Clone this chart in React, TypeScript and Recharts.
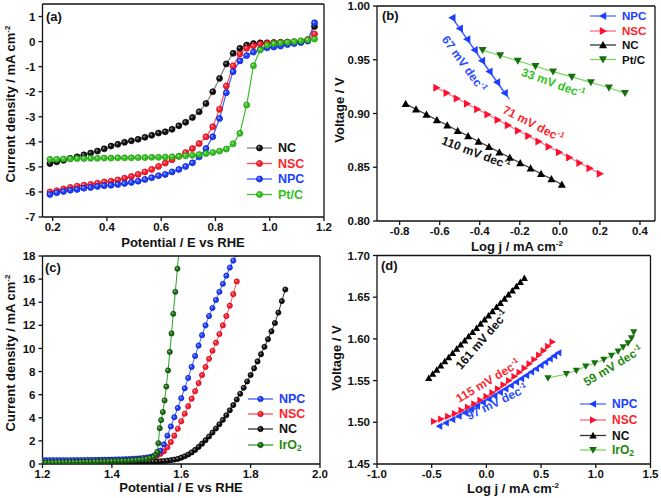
import { LineChart, Line, XAxis, YAxis } from 'recharts';

const W = 661;
const H = 498;
const FONT = '"Liberation Sans", Arial, Helvetica, sans-serif';

// ---------- (a) ORR polarisation curves ----------
const aPotential = [0.19, 0.215, 0.24, 0.265, 0.29, 0.315, 0.34, 0.365, 0.39, 0.415, 0.44, 0.465, 0.49, 0.515, 0.54, 0.565, 0.59, 0.615, 0.64, 0.665, 0.69, 0.715, 0.74, 0.765, 0.79, 0.815, 0.84, 0.865, 0.89, 0.915, 0.94, 0.965, 0.99, 1.015, 1.04, 1.065, 1.09, 1.115, 1.14, 1.165];
const aNC = [-4.87, -4.8, -4.74, -4.66, -4.6, -4.52, -4.45, -4.37, -4.28, -4.17, -4.1, -4.02, -3.96, -3.9, -3.82, -3.74, -3.65, -3.6, -3.5, -3.36, -3.22, -3.03, -2.8, -2.47, -2.0, -1.47, -0.89, -0.47, -0.27, -0.14, -0.08, -0.05, -0.05, -0.04, -0.03, -0.02, -0.01, 0, 0.05, 0.6];
const aNSC = [-6.0, -5.95, -5.88, -5.82, -5.77, -5.73, -5.7, -5.65, -5.6, -5.57, -5.52, -5.45, -5.38, -5.3, -5.2, -5.1, -4.98, -4.85, -4.72, -4.58, -4.43, -4.27, -4.07, -3.8, -3.4, -2.7, -1.77, -0.97, -0.5, -0.27, -0.17, -0.1, -0.07, -0.05, -0.04, -0.03, -0.02, 0, 0.08, 0.3];
const aNPC = [-6.1, -6.03, -5.98, -5.93, -5.9, -5.85, -5.82, -5.78, -5.75, -5.73, -5.7, -5.66, -5.62, -5.57, -5.5, -5.43, -5.35, -5.3, -5.2, -5.1, -4.98, -4.84, -4.6, -4.27, -3.8, -3.07, -2.04, -1.2, -0.77, -0.56, -0.42, -0.32, -0.25, -0.22, -0.18, -0.12, -0.08, -0.04, 0.02, 0.75];
const aPtC = [-4.7, -4.7, -4.69, -4.68, -4.67, -4.67, -4.66, -4.66, -4.65, -4.65, -4.64, -4.64, -4.64, -4.63, -4.63, -4.62, -4.62, -4.61, -4.6, -4.58, -4.56, -4.54, -4.51, -4.47, -4.43, -4.37, -4.29, -4.08, -3.66, -2.53, -0.96, -0.33, -0.15, -0.08, -0.05, -0.03, 0, 0.03, 0.06, 0.1];
const aXTicks = [0.2, 0.4, 0.6, 0.8, 1.0, 1.2];
const aYTicks = [-7, -6, -5, -4, -3, -2, -1, 0, 1];

// ---------- (b) ORR Tafel ----------
const bNpcLog = [-0.537, -0.5, -0.463, -0.426, -0.389, -0.352, -0.314, -0.276];
const bNpcV = [0.989, 0.979, 0.969, 0.959, 0.949, 0.939, 0.929, 0.919];
const bNpcFitLog = [-0.537, -0.251];
const bNpcFitV = [0.989, 0.913];
const bNscLog = [-0.616, -0.565, -0.514, -0.463, -0.412, -0.361, -0.31, -0.259, -0.208, -0.157, -0.106, -0.055, -0.004, 0.047, 0.098, 0.149, 0.2];
const bNscV = [0.924, 0.919, 0.914, 0.909, 0.904, 0.899, 0.894, 0.889, 0.884, 0.879, 0.874, 0.869, 0.864, 0.859, 0.854, 0.849, 0.844];
const bNcLog = [-0.77, -0.718, -0.666, -0.614, -0.562, -0.51, -0.458, -0.406, -0.354, -0.302, -0.25, -0.198, -0.146, -0.094, -0.042, 0.01];
const bNcV = [0.909, 0.904, 0.899, 0.894, 0.889, 0.884, 0.879, 0.874, 0.869, 0.864, 0.859, 0.854, 0.849, 0.844, 0.839, 0.834];
const bPtLog = [-0.386, -0.298, -0.21, -0.122, -0.034, 0.06, 0.155, 0.245, 0.325];
const bPtV = [0.959, 0.954, 0.949, 0.944, 0.939, 0.934, 0.929, 0.924, 0.919];
const bXTicks = [-0.8, -0.6, -0.4, -0.2, 0, 0.2, 0.4];
const bYTicks = [0.8, 0.85, 0.9, 0.95, 1.0];

// ---------- (c) OER polarisation curves ----------
const cPotential = [1.2, 1.21, 1.22, 1.23, 1.24, 1.25, 1.26, 1.27, 1.28, 1.29, 1.3, 1.31, 1.32, 1.33, 1.34, 1.35, 1.36, 1.37, 1.38, 1.39, 1.4, 1.41, 1.42, 1.43, 1.44, 1.45, 1.46, 1.47, 1.48, 1.49, 1.5, 1.51, 1.52, 1.53, 1.54, 1.55, 1.56, 1.57, 1.58, 1.59, 1.6, 1.61, 1.62, 1.63, 1.64, 1.65, 1.66, 1.67, 1.68, 1.69, 1.7, 1.71, 1.72, 1.73, 1.74, 1.75, 1.76, 1.77, 1.78, 1.79, 1.8, 1.81, 1.82, 1.83, 1.84, 1.85, 1.86, 1.87, 1.88, 1.89, 1.9];
const cNC = [0.12, 0.12, 0.12, 0.12, 0.12, 0.12, 0.12, 0.13, 0.13, 0.13, 0.13, 0.13, 0.13, 0.14, 0.14, 0.14, 0.14, 0.14, 0.15, 0.15, 0.15, 0.15, 0.16, 0.16, 0.16, 0.17, 0.17, 0.17, 0.18, 0.18, 0.19, 0.2, 0.21, 0.22, 0.24, 0.26, 0.29, 0.33, 0.38, 0.44, 0.55, 0.67, 0.82, 1.0, 1.22, 1.48, 1.76, 2.06, 2.38, 2.72, 3.07, 3.44, 3.82, 4.22, 4.65, 5.1, 5.58, 6.08, 6.6, 7.14, 7.7, 8.28, 8.88, 9.5, 10.14, 10.8, 11.48, 12.2, 13.1, 14.1, 15.1];
const cNSC = [0.26, 0.26, 0.26, 0.26, 0.26, 0.27, 0.27, 0.27, 0.27, 0.28, 0.28, 0.28, 0.29, 0.29, 0.29, 0.3, 0.3, 0.31, 0.31, 0.32, 0.33, 0.34, 0.35, 0.36, 0.37, 0.38, 0.4, 0.42, 0.44, 0.47, 0.5, 0.55, 0.62, 0.72, 0.88, 1.1, 1.45, 1.9, 2.45, 3.05, 3.7, 4.35, 5.0, 5.65, 6.3, 7.0, 7.7, 8.4, 9.1, 9.8, 10.5, 11.25, 12.0, 12.8, 13.7, 14.7, 15.8];
const cNPC = [0.33, 0.33, 0.33, 0.33, 0.33, 0.33, 0.33, 0.33, 0.33, 0.34, 0.34, 0.34, 0.34, 0.35, 0.35, 0.35, 0.36, 0.36, 0.37, 0.37, 0.38, 0.39, 0.4, 0.41, 0.42, 0.43, 0.45, 0.47, 0.49, 0.52, 0.56, 0.61, 0.7, 0.85, 1.15, 1.7, 2.45, 3.25, 4.05, 4.85, 5.7, 6.55, 7.45, 8.4, 9.35, 10.25, 11.15, 12.0, 12.8, 13.5, 14.2, 14.9, 15.6, 16.3, 17.0, 17.6, 18.2];
const cIrPotential = [1.2, 1.21, 1.22, 1.23, 1.24, 1.25, 1.26, 1.27, 1.28, 1.29, 1.3, 1.31, 1.32, 1.33, 1.34, 1.35, 1.36, 1.37, 1.38, 1.39, 1.4, 1.41, 1.42, 1.43, 1.44, 1.45, 1.46, 1.47, 1.48, 1.49, 1.5, 1.51, 1.52, 1.527, 1.531, 1.534, 1.538, 1.542, 1.547, 1.552, 1.557, 1.562, 1.567, 1.572, 1.577, 1.583, 1.589, 1.595];
const cIrO2 = [0.15, 0.15, 0.15, 0.16, 0.16, 0.16, 0.17, 0.17, 0.18, 0.18, 0.19, 0.19, 0.2, 0.2, 0.21, 0.22, 0.22, 0.23, 0.24, 0.25, 0.26, 0.27, 0.28, 0.29, 0.3, 0.32, 0.34, 0.36, 0.38, 0.41, 0.45, 0.52, 0.62, 0.8, 1.05, 1.8, 3.1, 3.8, 4.5, 5.5, 6.7, 8.1, 9.7, 11.3, 13.0, 14.9, 16.9, 19.0];
const cXTicks = [1.2, 1.4, 1.6, 1.8, 2.0];
const cYTicks = [0, 2, 4, 6, 8, 10, 12, 14, 16, 18];

// ---------- (d) OER Tafel ----------
const dNpcLog = [-0.43, -0.37, -0.311, -0.253, -0.196, -0.14, -0.085, -0.031, 0.022, 0.074, 0.125, 0.175, 0.224, 0.272, 0.319, 0.365, 0.41, 0.454, 0.497, 0.539, 0.58, 0.62, 0.659];
const dNpcV = [1.4953, 1.4993, 1.5033, 1.5073, 1.5114, 1.5154, 1.5195, 1.5236, 1.5277, 1.5318, 1.5359, 1.54, 1.5441, 1.5482, 1.5523, 1.5562, 1.5603, 1.5642, 1.5682, 1.572, 1.5759, 1.5797, 1.5834];
const dNscLog = [-0.48, -0.415, -0.351, -0.289, -0.229, -0.17, -0.112, -0.056, -0.001, 0.053, 0.105, 0.156, 0.206, 0.255, 0.302, 0.348, 0.393, 0.437, 0.48, 0.522, 0.563, 0.603];
const dNscV = [1.501, 1.5039, 1.5071, 1.5105, 1.5142, 1.5181, 1.5222, 1.5265, 1.531, 1.5355, 1.5402, 1.5449, 1.5499, 1.5549, 1.5599, 1.5649, 1.5701, 1.5753, 1.5806, 1.5859, 1.5911, 1.5964];
const dNcLog = [-0.527, -0.491, -0.454, -0.418, -0.381, -0.345, -0.309, -0.272, -0.236, -0.199, -0.163, -0.127, -0.09, -0.054, -0.017, 0.019, 0.055, 0.092, 0.128, 0.165, 0.201, 0.237, 0.274, 0.31, 0.347];
const dNcV = [1.553, 1.558, 1.563, 1.568, 1.573, 1.578, 1.583, 1.588, 1.593, 1.598, 1.603, 1.608, 1.613, 1.618, 1.623, 1.628, 1.633, 1.638, 1.643, 1.648, 1.653, 1.658, 1.663, 1.668, 1.673];
const dIrLog = [0.563, 0.731, 0.822, 0.908, 0.99, 1.073, 1.143, 1.204, 1.25, 1.295, 1.326, 1.347];
const dIrV = [1.553, 1.558, 1.562, 1.567, 1.571, 1.575, 1.58, 1.585, 1.59, 1.595, 1.601, 1.608];
const dXTicks = [-1.0, -0.5, 0, 0.5, 1.0, 1.5];
const dYTicks = [1.45, 1.5, 1.55, 1.6, 1.65, 1.7];

// plot-area boxes (page pixels)
const PA = { l: 42.5, r: 324, t: 4, b: 217 };
const PB = { l: 377, r: 655, t: 6, b: 221 };
const PC = { l: 42.5, r: 320, t: 256, b: 464 };
const PD = { l: 377, r: 650.5, t: 255.5, b: 464 };
const YW = 30; // y axis band
const XH = 24; // x axis band

const zip = (xs: number[], ys: number[]) => xs.map((x, i) => ({ x, y: ys[i] }));

const aRows = aPotential.map((x, i) => ({ x, nc: aNC[i], nsc: aNSC[i], npc: aNPC[i], pt: aPtC[i] }));
const cRows = cPotential.map((x, i) => ({ x, nc: cNC[i], nsc: cNSC[i] ?? null, npc: cNPC[i] ?? null }));

// ---------- markers ----------
const ballAt = (cx: number, cy: number, r: number, fill: string, edge: string, key: string) => (
  <g key={key}>
    <circle cx={cx} cy={cy} r={r} fill={fill} stroke={edge} strokeWidth={0.7} />
    <circle cx={cx - r * 0.25} cy={cy - r * 0.25} r={r * 0.38} fill="#fff" fillOpacity={0.45} />
  </g>
);
const ball = (fill: string, edge: string, r: number) => (p: any) =>
  p.cx == null || p.cy == null ? <g key={`n${p.index}`} /> : ballAt(p.cx, p.cy, r, fill, edge, `b${p.index}`);

type Dir = 'up' | 'down' | 'left' | 'right';
const triPts = (x: number, y: number, s: number, d: Dir) => {
  const h = s * 0.8;
  if (d === 'up') return `${x},${y - s} ${x + s},${y + h} ${x - s},${y + h}`;
  if (d === 'down') return `${x},${y + s} ${x + s},${y - h} ${x - s},${y - h}`;
  if (d === 'left') return `${x - s},${y} ${x + h},${y - s} ${x + h},${y + s}`;
  return `${x + s},${y} ${x - h},${y - s} ${x - h},${y + s}`;
};
const triAt = (cx: number, cy: number, s: number, d: Dir, fill: string, key: string) => (
  <polygon key={key} points={triPts(cx, cy, s, d)} fill={fill} />
);
const tri = (fill: string, s: number, d: Dir) => (p: any) =>
  p.cx == null || p.cy == null ? <g key={`n${p.index}`} /> : triAt(p.cx, p.cy, s, d, fill, `t${p.index}`);

// ---------- colours ----------
const RED = '#ff1f2e';
const BLUE = '#2040ff';
const LIME = '#33c21f';
const DKGREEN = '#1a6e12';

const axisStroke = { stroke: '#111', strokeWidth: 1.3 };
const tickFont = { fill: '#111', fontSize: 11.5, fontWeight: 700, fontFamily: FONT };

function Panel({ g, data, xDomain, xTicks, xFmt, yDomain, yTicks, yFmt, children }: any) {
  return (
    <div style={{ position: 'absolute', left: 0, top: 0 }}>
      <LineChart
        width={W}
        height={H}
        data={data}
        margin={{ top: g.t, left: g.l - YW, right: W - g.r, bottom: H - g.b - XH }}
      >
        <XAxis
          dataKey="x"
          type="number"
          domain={xDomain}
          ticks={xTicks}
          interval={0}
          allowDataOverflow
          height={XH}
          axisLine={axisStroke}
          tickLine={axisStroke}
          tickSize={4}
          tickMargin={2}
          tick={tickFont}
          tickFormatter={xFmt}
        />
        <YAxis
          type="number"
          domain={yDomain}
          ticks={yTicks}
          interval={0}
          allowDataOverflow
          width={YW}
          axisLine={axisStroke}
          tickLine={axisStroke}
          tickSize={4}
          tickMargin={3}
          tick={tickFont}
          tickFormatter={yFmt}
        />
        {children}
      </LineChart>
    </div>
  );
}

const f1 = (v: number) => v.toFixed(1);
const f2 = (v: number) => v.toFixed(2);
const f0 = (v: number) => String(v);

function Sup({ children }: any) {
  return (
    <tspan dy={-5} fontSize={8}>
      {children}
    </tspan>
  );
}

function Slope({ x, y, angle, color, text, size = 12 }: any) {
  return (
    <text
      x={x}
      y={y}
      transform={`rotate(${angle} ${x} ${y})`}
      textAnchor="middle"
      dominantBaseline="central"
      fill={color}
      fontSize={size}
      fontWeight={700}
    >
      {text}
      <tspan dy={-4} fontSize={size * 0.65}>
        -1
      </tspan>
    </text>
  );
}

function LegendRow({ x, y, len, label, color, line, mark, size = 12.5 }: any) {
  return (
    <g>
      <line x1={x} x2={x + len} y1={y} y2={y} stroke={line} strokeWidth={1.3} />
      {mark(x + len / 2, y)}
      <text x={x + len + 6} y={y} dominantBaseline="central" fill={color} fontSize={size} fontWeight={700}>
        {label}
      </text>
    </g>
  );
}

function Box({ g }: any) {
  return (
    <g stroke="#111" strokeWidth={1.3}>
      <line x1={g.l} x2={g.r} y1={g.t} y2={g.t} />
      <line x1={g.r} x2={g.r} y1={g.t} y2={g.b} />
    </g>
  );
}

function Overlay() {
  const ir = (
    <>
      IrO<tspan dy={3} fontSize={8.5}>2</tspan>
    </>
  );
  return (
    <svg
      width={W}
      height={H}
      style={{ position: 'absolute', left: 0, top: 0, pointerEvents: 'none' }}
      fontFamily={FONT}
    >
      <Box g={PA} />
      <Box g={PB} />
      <Box g={PC} />
      <Box g={PD} />

      {/* panel letters */}
      <g fontSize={13} fontWeight={700} fill="#111">
        <text x={46} y={21}>(a)</text>
        <text x={382} y={20}>(b)</text>
        <text x={45} y={272}>(c)</text>
        <text x={381} y={270}>(d)</text>
      </g>

      {/* axis titles */}
      <g fontSize={13} fontWeight={700} fill="#111" textAnchor="middle">
        <text transform="translate(15,104) rotate(-90)">
          Current density / mA cm<Sup>-2</Sup>
        </text>
        <text x={183} y={247}>Potential / E vs RHE</text>
        <text transform="translate(344,110) rotate(-90)">Voltage / V</text>
        <text x={517} y={251}>
          Log j / mA cm<Sup>-2</Sup>
        </text>
        <text transform="translate(15,353) rotate(-90)">
          Current density / mA cm<Sup>-2</Sup>
        </text>
        <text x={181} y={492}>Potential / E vs RHE</text>
        <text transform="translate(341,358) rotate(-90)">Voltage / V</text>
        <text x={513} y={493}>
          Log j / mA cm<Sup>-2</Sup>
        </text>
      </g>

      {/* slope annotations */}
      <Slope x={464} y={64} angle={54} color="#2d4cff" text="67 mV dec" />
      <Slope x={553} y={83} angle={20} color={LIME} text="33 mV dec" />
      <Slope x={533} y={124} angle={27} color={RED} text="71 mV dec" />
      <Slope x={476} y={153} angle={21} color="#111" text="110 mV dec" />
      <Slope x={482} y={340} angle={-49} color="#111" text="161 mV dec" />
      <Slope x={488} y={381} angle={-31} color={RED} text="115 mV dec" />
      <Slope x={497} y={402} angle={-26} color="#2a4cff" text="97 mV dec" />
      <Slope x={613} y={366} angle={-31} color="#1f8a10" text="59 mV dec" />

      {/* legends */}
      <LegendRow x={247} y={148} len={25} label="NC" color="#111" line="#808080" mark={(x: number, y: number) => ballAt(x, y, 3, '#111', '#000', 'l')} />
      <LegendRow x={247} y={163.5} len={25} label="NSC" color={RED} line="#ff4a55" mark={(x: number, y: number) => ballAt(x, y, 3, RED, '#c00010', 'l')} />
      <LegendRow x={247} y={179} len={25} label="NPC" color={BLUE} line="#3b5cff" mark={(x: number, y: number) => ballAt(x, y, 3, BLUE, '#0018c0', 'l')} />
      <LegendRow x={247} y={194.5} len={25} label="Pt/C" color={LIME} line="#3dbb2a" mark={(x: number, y: number) => ballAt(x, y, 3, LIME, '#1f9010', 'l')} />

      <LegendRow x={590} y={16} len={26} size={11.5} label="NPC" color={BLUE} line="#4d6bff" mark={(x: number, y: number) => triAt(x, y, 4, 'left', '#1f3fff', 'l')} />
      <LegendRow x={590} y={31} len={26} size={11.5} label="NSC" color={RED} line="#ff6b7a" mark={(x: number, y: number) => triAt(x, y, 4, 'right', '#ff1030', 'l')} />
      <LegendRow x={590} y={45} len={26} size={11.5} label="NC" color="#111" line="#333" mark={(x: number, y: number) => triAt(x, y, 4, 'up', '#000', 'l')} />
      <LegendRow x={590} y={59.5} len={26} size={11.5} label="Pt/C" color="#111" line="#78d85a" mark={(x: number, y: number) => triAt(x, y, 4, 'down', DKGREEN, 'l')} />

      <LegendRow x={248} y={399} len={25} label="NPC" color={BLUE} line="#3b5cff" mark={(x: number, y: number) => ballAt(x, y, 2.7, BLUE, '#0018c0', 'l')} />
      <LegendRow x={248} y={414} len={25} label="NSC" color={RED} line="#ff5060" mark={(x: number, y: number) => ballAt(x, y, 2.7, RED, '#c00010', 'l')} />
      <LegendRow x={248} y={429} len={25} label="NC" color="#111" line="#333" mark={(x: number, y: number) => ballAt(x, y, 2.7, '#111', '#000', 'l')} />
      <LegendRow x={248} y={445} len={25} label={ir} color="#1f8a10" line="#2ea02e" mark={(x: number, y: number) => ballAt(x, y, 2.7, DKGREEN, '#0d4a08', 'l')} />

      <LegendRow x={580} y={404} len={26} size={12} label="NPC" color={BLUE} line="#4d6bff" mark={(x: number, y: number) => triAt(x, y, 3.8, 'left', '#1f3fff', 'l')} />
      <LegendRow x={580} y={420} len={26} size={12} label="NSC" color={RED} line="#ff6b7a" mark={(x: number, y: number) => triAt(x, y, 3.8, 'right', '#ff1030', 'l')} />
      <LegendRow x={580} y={435.5} len={26} size={12} label="NC" color="#111" line="#333" mark={(x: number, y: number) => triAt(x, y, 3.8, 'up', '#000', 'l')} />
      <LegendRow x={580} y={450} len={26} size={12} label={ir} color="#1f8a10" line="#78d85a" mark={(x: number, y: number) => triAt(x, y, 3.8, 'down', DKGREEN, 'l')} />
    </svg>
  );
}

export default function App() {
  return (
    <div style={{ position: 'absolute', left: 0, top: 0, width: W, height: H, background: '#fff', fontFamily: FONT }}>
      <Panel g={PA} data={aRows} xDomain={[0.1625, 1.2]} xTicks={aXTicks} xFmt={f1} yDomain={[-7, 1.5]} yTicks={aYTicks} yFmt={f0}>
        <Line dataKey="nc" stroke="#808080" strokeWidth={1.2} dot={ball('#111', '#000', 3)} activeDot={false} isAnimationActive={false} />
        <Line dataKey="nsc" stroke="#ff4a55" strokeWidth={1.2} dot={ball(RED, '#c00010', 3)} activeDot={false} isAnimationActive={false} />
        <Line dataKey="npc" stroke="#3b5cff" strokeWidth={1.2} dot={ball(BLUE, '#0018c0', 3)} activeDot={false} isAnimationActive={false} />
        <Line dataKey="pt" stroke="#3dbb2a" strokeWidth={1.2} dot={ball(LIME, '#1f9010', 3)} activeDot={false} isAnimationActive={false} />
      </Panel>

      <Panel g={PB} xDomain={[-0.913, 0.475]} xTicks={bXTicks} xFmt={f1} yDomain={[0.8, 1.0]} yTicks={bYTicks} yFmt={f2}>
        <Line data={zip(bNpcFitLog, bNpcFitV)} dataKey="y" stroke="#4d6bff" strokeWidth={1.2} dot={false} activeDot={false} isAnimationActive={false} />
        <Line data={zip(bNpcLog, bNpcV)} dataKey="y" stroke="#4d6bff" strokeWidth={1.2} dot={tri('#1f3fff', 4, 'left')} activeDot={false} isAnimationActive={false} />
        <Line data={zip(bNscLog, bNscV)} dataKey="y" stroke="#ff6b7a" strokeWidth={1.2} dot={tri('#ff1030', 4, 'right')} activeDot={false} isAnimationActive={false} />
        <Line data={zip(bNcLog, bNcV)} dataKey="y" stroke="#333" strokeWidth={1.2} dot={tri('#000', 4, 'up')} activeDot={false} isAnimationActive={false} />
        <Line data={zip(bPtLog, bPtV)} dataKey="y" stroke="#78d85a" strokeWidth={1.2} dot={tri(DKGREEN, 4, 'down')} activeDot={false} isAnimationActive={false} />
      </Panel>

      <Panel g={PC} data={cRows} xDomain={[1.2, 2.0]} xTicks={cXTicks} xFmt={f1} yDomain={[0, 18]} yTicks={cYTicks} yFmt={f0}>
        <Line dataKey="nc" stroke="#333" strokeWidth={1} dot={ball('#111', '#000', 2.6)} activeDot={false} isAnimationActive={false} />
        <Line dataKey="nsc" stroke="#ff5060" strokeWidth={1} dot={ball(RED, '#c00010', 2.6)} activeDot={false} isAnimationActive={false} />
        <Line dataKey="npc" stroke="#3b5cff" strokeWidth={1} dot={ball(BLUE, '#0018c0', 2.6)} activeDot={false} isAnimationActive={false} />
        <Line data={zip(cIrPotential, cIrO2)} dataKey="y" stroke="#2ea02e" strokeWidth={1} dot={ball(DKGREEN, '#0d4a08', 2.6)} activeDot={false} isAnimationActive={false} />
      </Panel>

      <Panel g={PD} xDomain={[-1, 1.5]} xTicks={dXTicks} xFmt={f1} yDomain={[1.45, 1.7]} yTicks={dYTicks} yFmt={f2}>
        <Line data={zip(dNcLog, dNcV)} dataKey="y" stroke="#333" strokeWidth={1.1} dot={tri('#000', 3.6, 'up')} activeDot={false} isAnimationActive={false} />
        <Line data={zip(dNscLog, dNscV)} dataKey="y" stroke="#ff6b7a" strokeWidth={1.1} dot={tri('#ff1030', 3.6, 'right')} activeDot={false} isAnimationActive={false} />
        <Line data={zip(dNpcLog, dNpcV)} dataKey="y" stroke="#4d6bff" strokeWidth={1.1} dot={tri('#1f3fff', 3.6, 'left')} activeDot={false} isAnimationActive={false} />
        <Line data={zip(dIrLog, dIrV)} dataKey="y" stroke="#78d85a" strokeWidth={1.1} dot={tri(DKGREEN, 3.6, 'down')} activeDot={false} isAnimationActive={false} />
      </Panel>

      <Overlay />
    </div>
  );
}
